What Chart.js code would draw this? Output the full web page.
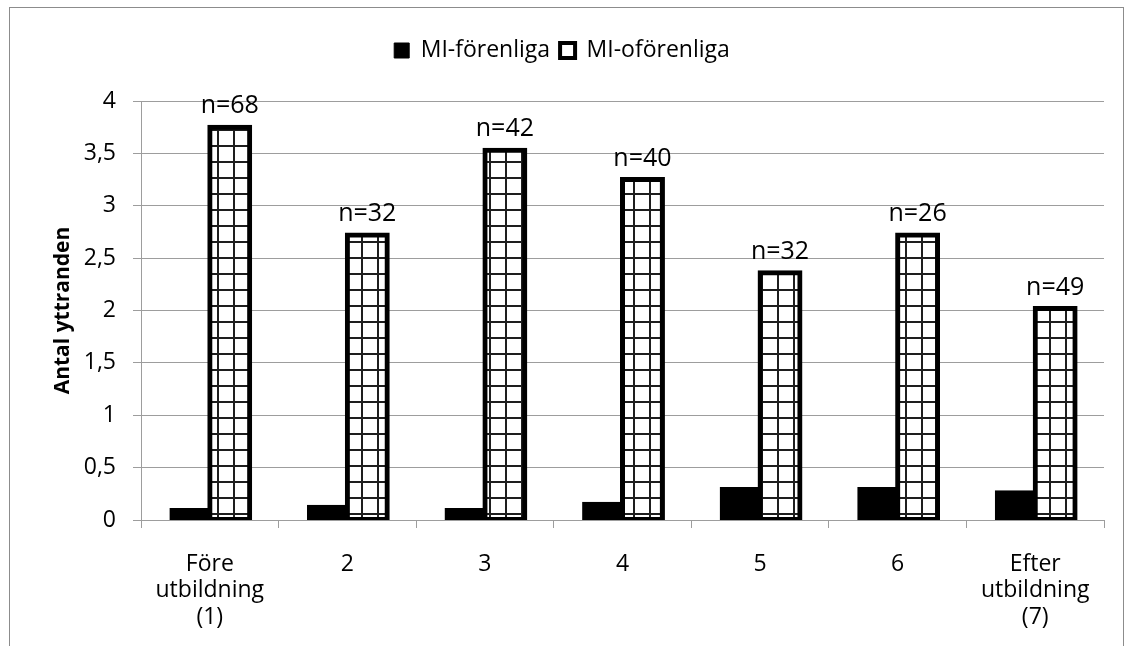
<!DOCTYPE html>
<html>
<head>
<meta charset="utf-8">
<script src="https://cdn.jsdelivr.net/npm/chart.js@4.4.1/dist/chart.umd.min.js"></script>
<style>
  html, body { margin: 0; padding: 0; background: #fff; overflow: hidden; }
  #wrap { position: relative; width: 1132px; height: 646px; }
  #c { position: absolute; left: 0; top: 0; }
  #frame { position: absolute; left: 9px; top: 7px; width: 1115px; height: 700px;
           border: 1px solid #8c8c8c; box-sizing: border-box; pointer-events: none; }
</style>
</head>
<body>
<div id="wrap">
  <canvas id="c" width="1132" height="646"></canvas>
  <div id="frame"></div>
</div>
<script>
// Measurement points: before training (1), sessions 2–6, after training (7)
const categories = [['Före', 'utbildning', '(1)'], '2', '3', '4', '5', '6', ['Efter', 'utbildning', '(7)']];
const seriesNames = ['MI-förenliga', 'MI-oförenliga'];
const miForenliga = [0.11, 0.14, 0.11, 0.17, 0.31, 0.31, 0.28];
const miOforenliga = [3.75, 2.72, 3.53, 3.25, 2.36, 2.72, 2.02];
const sampleSizes = ['n=68', 'n=32', 'n=42', 'n=40', 'n=32', 'n=26', 'n=49'];
const yTickLabels = ['0', '0,5', '1', '1,5', '2', '2,5', '3', '3,5', '4'];
const yTitle = 'Antal yttranden';

const FONT = '"Open Sans", "Noto Sans", sans-serif';
const GRID = '#9d9d9d';

const canvas = document.getElementById('c');
const ctx = canvas.getContext('2d');

// Square-grid fill used for the MI-oförenliga bars
function gridFill() {
  const tile = document.createElement('canvas');
  tile.width = 16; tile.height = 16;
  const g = tile.getContext('2d');
  g.fillStyle = '#ffffff';
  g.fillRect(0, 0, 16, 16);
  g.fillStyle = '#1e1e1e';
  g.fillRect(9, 0, 2, 16);
  g.fillRect(0, 1, 16, 2);
  return ctx.createPattern(tile, 'repeat');
}
const hatch = gridFill();

// Fixed legend band height so the plot starts at the same place every time
const legendBand = {
  id: 'legendBand',
  beforeInit(chart) {
    const lg = chart.legend;
    if (!lg) return;
    const fit = lg.fit;
    lg.fit = function () { fit.call(this); this.height = 72; };
  }
};

// "n=.." sample size written above each MI-oförenliga bar
const sampleLabels = {
  id: 'sampleLabels',
  afterDatasetsDraw(chart) {
    const meta = chart.getDatasetMeta(1);
    const c = chart.ctx;
    c.save();
    c.font = '25px ' + FONT;
    c.fillStyle = '#000';
    c.textAlign = 'center';
    c.textBaseline = 'middle';
    meta.data.forEach((bar, i) => {
      c.fillText(sampleSizes[i], bar.x, bar.y - 21);
    });
    c.restore();
  }
};

new Chart(ctx, {
  type: 'bar',
  data: {
    labels: categories,
    datasets: [
      {
        label: seriesNames[0],
        data: miForenliga,
        backgroundColor: '#000000',
        borderColor: '#000000',
        borderWidth: 1,
        borderSkipped: false,
        inflateAmount: 0.5
      },
      {
        label: seriesNames[1],
        data: miOforenliga,
        backgroundColor: hatch,
        borderColor: '#000000',
        borderWidth: 5,
        borderSkipped: false,
        inflateAmount: 2.5
      }
    ]
  },
  options: {
    responsive: false,
    devicePixelRatio: 1,
    animation: false,
    categoryPercentage: 0.58,
    barPercentage: 1.0,
    layout: { padding: { top: 29, left: 20, right: 28, bottom: 0 } },
    plugins: {
      tooltip: { enabled: false },
      legend: {
        position: 'top',
        align: 'center',
        labels: {
          font: { family: FONT, size: 23 },
          color: '#000',
          boxWidth: 15,
          boxHeight: 15,
          padding: 10,
          generateLabels(chart) {
            return chart.data.datasets.map((ds, i) => ({
              text: ds.label,
              fillStyle: i === 0 ? '#000' : '#ffffff',
              strokeStyle: '#000',
              lineWidth: i === 0 ? 1 : 4,
              hidden: false,
              datasetIndex: i
            }));
          }
        }
      }
    },
    scales: {
      x: {
        grid: {
          display: true,
          offset: true,
          drawOnChartArea: false,
          drawTicks: true,
          tickLength: 8,
          color: GRID,
          tickColor: GRID
        },
        border: { display: true, color: GRID, width: 1 },
        ticks: {
          font: { family: FONT, size: 23, lineHeight: 1.15 },
          color: '#000',
          padding: 23,
          maxRotation: 0,
          autoSkip: false
        },
        afterFit(scale) { scale.height = 126; }
      },
      y: {
        min: 0,
        max: 4,
        grid: {
          color: GRID,
          tickColor: GRID,
          drawTicks: true,
          tickLength: 8
        },
        border: { display: true, color: GRID, width: 1 },
        ticks: {
          stepSize: 0.5,
          font: { family: FONT, size: 23 },
          color: '#000',
          padding: 17,
          callback: (v, i) => yTickLabels[i]
        },
        title: {
          display: true,
          text: yTitle,
          font: { family: FONT, size: 21, weight: 'bold' },
          color: '#000',
          padding: { top: 30, bottom: 0 }
        },
        afterFit(scale) { scale.width = 121; }
      }
    }
  },
  plugins: [legendBand, sampleLabels]
});
</script>
</body>
</html>
